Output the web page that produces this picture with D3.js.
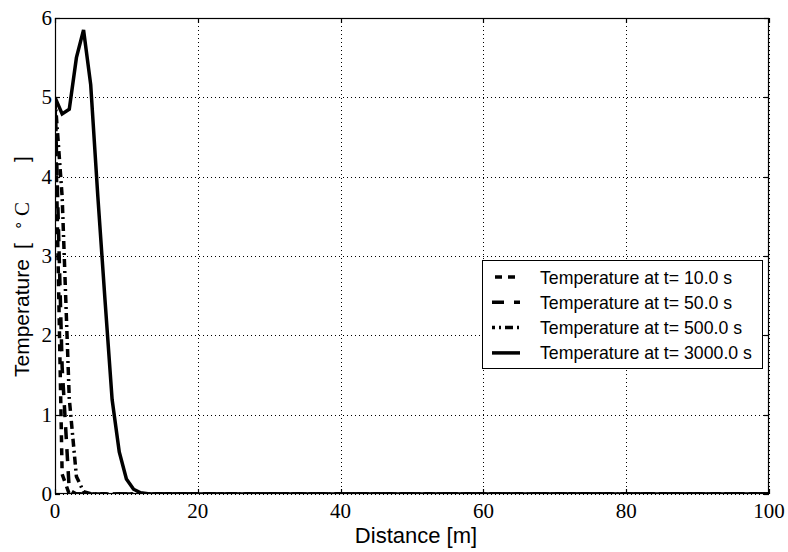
<!DOCTYPE html>
<html><head><meta charset="utf-8">
<script src="https://cdn.jsdelivr.net/npm/d3@7"></script>
<style>body{margin:0;background:#fff}</style>
</head><body>
<svg id="chart" width="788" height="552"></svg>
<script>
// ---- data ----
const distance = [0,1,2,3,4,5,6,7,8,9,10,11,12,13,14,100];
const temp10s   = [5.0,0.25,0,0,0,0,0,0,0,0,0,0,0,0,0,0];
const temp50s   = [5.0,1.6,0.05,0,0,0,0,0,0,0,0,0,0,0,0,0];
const temp500s  = [5.0,3.75,1.2,0.22,0.03,0.003,0,0,0,0,0,0,0,0,0,0];
const temp3000s = [5.0,4.79,4.85,5.5,5.85,5.16,3.75,2.45,1.19,0.53,0.19,0.06,0.015,0.003,0,0];
const seriesLabels = ["Temperature at t= 10.0 s","Temperature at t= 50.0 s","Temperature at t= 500.0 s","Temperature at t= 3000.0 s"];
const xTicks = [0,20,40,60,80,100];
const yTicks = [0,1,2,3,4,5,6];

// ---- chart ----
const svg = d3.select("#chart");
const L=55, R=769, T=18, B=494;
const x = d3.scaleLinear().domain([0,100]).range([L,R]);
const y = d3.scaleLinear().domain([0,6]).range([B,T]);
const serif = "'Liberation Serif', 'Times New Roman', serif";
const sans = "'Liberation Sans', Arial, sans-serif";

svg.append("rect").attr("width",788).attr("height",552).attr("fill","#fff");

// grid
const grid = svg.append("g").attr("stroke","#000").attr("stroke-width",1).attr("stroke-dasharray","1,3");
grid.selectAll("line.gx").data(xTicks).join("line").attr("class","gx")
  .attr("x1",d=>Math.round(x(d))+0.5).attr("x2",d=>Math.round(x(d))+0.5).attr("y1",T).attr("y2",B);
grid.selectAll("line.gy").data(yTicks).join("line").attr("class","gy")
  .attr("y1",d=>Math.round(y(d))+0.5).attr("y2",d=>Math.round(y(d))+0.5).attr("x1",L).attr("x2",R);

svg.append("clipPath").attr("id","clip").append("rect").attr("x",L).attr("y",T-4).attr("width",R-L).attr("height",B-T+4);

const styles = [
  {dash:"7,6", off:-3, w:3.5},
  {dash:"12,10", off:0, w:3.5},
  {dash:"8,4,2,4", off:5, w:3.5},
  {dash:null, off:0, w:3.5}
];
const seriesVals = [temp10s,temp50s,temp500s,temp3000s];
const line = d3.line().x(d=>x(d[0])).y(d=>y(d[1]));
const curves = svg.append("g").attr("clip-path","url(#clip)");
seriesVals.forEach((vals,i)=>{
  curves.append("path").datum(distance.map((d,j)=>[d,vals[j]]))
    .attr("d",line).attr("fill","none").attr("stroke","#000")
    .attr("stroke-width",styles[i].w).attr("stroke-dasharray",styles[i].dash)
    .attr("stroke-linejoin","miter");
});

// frame
svg.append("rect").attr("x",L+0.5).attr("y",T+0.5).attr("width",R-L-1).attr("height",B-T-1)
  .attr("fill","none").attr("stroke","#000").attr("stroke-width",1.2);

// ticks (inward, all sides)
const tk = svg.append("g").attr("stroke","#000").attr("stroke-width",1.2);
xTicks.forEach(d=>{
  const px=Math.round(x(d))+0.5;
  tk.append("line").attr("x1",px).attr("x2",px).attr("y1",B).attr("y2",B-5);
  tk.append("line").attr("x1",px).attr("x2",px).attr("y1",T).attr("y2",T+5);
});
yTicks.forEach(d=>{
  const py=Math.round(y(d))+0.5;
  tk.append("line").attr("x1",L).attr("x2",L+5).attr("y1",py).attr("y2",py);
  tk.append("line").attr("x1",R).attr("x2",R-5).attr("y1",py).attr("y2",py);
});

// tick labels
svg.append("g").selectAll("text").data(xTicks).join("text")
  .attr("x",d=>x(d)).attr("y",B+24).attr("text-anchor","middle")
  .style("font-family",serif).style("font-size","21px").text(d=>d);
svg.append("g").selectAll("text").data(yTicks).join("text")
  .attr("x",L-3).attr("y",d=>y(d)+7).attr("text-anchor","end")
  .style("font-family",serif).style("font-size","21px").text(d=>d);

// axis labels
svg.append("text").attr("x",416).attr("y",543).attr("text-anchor","middle")
  .style("font-family",sans).style("font-size","22px").text("Distance [m]");
const yl = svg.append("g").attr("transform","translate(29,0) rotate(-90)")
  .style("font-family",sans).style("font-size","21px");
yl.append("text").attr("x",-377).text("Temperature");
yl.append("text").attr("x",-249).text("[");
yl.append("text").attr("x",-230).attr("y",-6).style("font-family",serif).style("font-size","15px").text("∘");
yl.append("text").attr("x",-216).style("font-family",serif).text("C");
yl.append("text").attr("x",-162).text("]");

// legend
const lg = svg.append("g");
lg.append("rect").attr("x",482.5).attr("y",260.5).attr("width",280).attr("height",108)
  .attr("fill","#fff").attr("stroke","#000").attr("stroke-width",1);
seriesLabels.forEach((s,i)=>{
  const cy = 277 + i*25.3;
  lg.append("line").attr("x1",492).attr("x2",520).attr("y1",cy).attr("y2",cy)
    .attr("stroke","#000").attr("stroke-width",styles[i].w)
    .attr("stroke-dasharray",styles[i].dash).attr("stroke-dashoffset",styles[i].off);
  lg.append("text").attr("x",540).attr("y",cy+6.5).style("font-family",sans).style("font-size","17.7px").text(s);
});
</script>
</body></html>
